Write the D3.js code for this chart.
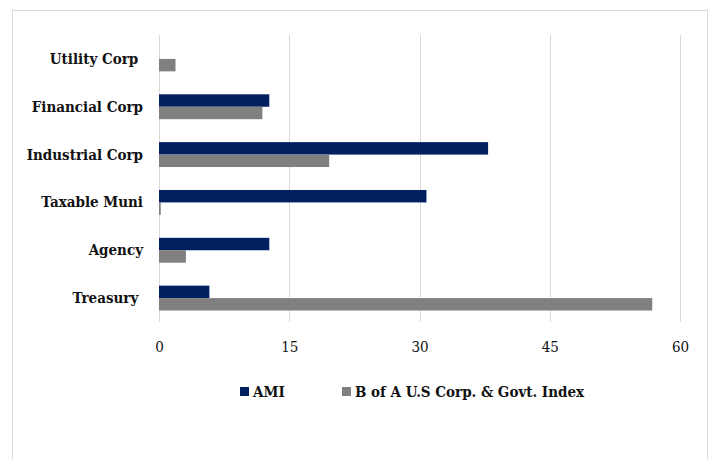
<!DOCTYPE html>
<html>
<head>
<meta charset="utf-8">
<script src="https://cdn.jsdelivr.net/npm/d3@7"></script>
<style>
  body { margin: 0; background: #fff; }
</style>
</head>
<body>
<div id="chart"></div>
<script>
// sectors, top to bottom
const categories = ["Utility Corp ", "Financial Corp", "Industrial Corp", "Taxable Muni", "Agency", "Treasury "];
const seriesNames = ["AMI", "B of A U.S Corp. & Govt. Index"];
const amiValues = [0, 12.7, 37.9, 30.8, 12.7, 5.8];
const indexValues = [1.9, 11.9, 19.6, 0.2, 3.1, 56.8];
const tickValues = [0, 15, 30, 45, 60];
const colors = ["#002060", "#808080"];

const FONT = "'DejaVu Serif', serif";

const W = 721, H = 459;
const margin = { top: 35, left: 159, right: 41, bottom: 137 };
const width = W - margin.left - margin.right;
const height = H - margin.top - margin.bottom;

const svg = d3.select("#chart")
    .append("svg")
    .attr("width", W)
    .attr("height", H)
    .attr("font-family", FONT);

// outer frame
svg.append("rect")
    .attr("x", 12.5)
    .attr("y", 10.5)
    .attr("width", 695)
    .attr("height", 470)
    .attr("fill", "none")
    .attr("stroke", "#d9d9d9");

const g = svg.append("g")
    .attr("transform", "translate(" + margin.left + "," + margin.top + ")");

const xScale = d3.scaleLinear()
    .domain([0, 60])
    .range([0, width]);

const yScale = d3.scaleBand()
    .domain(categories)
    .range([0, height])
    .paddingInner(0.48)
    .paddingOuter(0.24);

const ySub = d3.scaleBand()
    .domain(seriesNames)
    .range([0, yScale.bandwidth()]);

// gridlines
g.selectAll(".grid")
    .data(tickValues)
    .enter()
    .append("line")
    .attr("class", "grid")
    .attr("x1", d => Math.round(xScale(d)) + 0.5)
    .attr("x2", d => Math.round(xScale(d)) + 0.5)
    .attr("y1", 0)
    .attr("y2", height)
    .attr("stroke", "#d9d9d9")
    .attr("stroke-width", 1);

// bars
const rows = categories.map((c, i) => ({ cat: c, vals: [amiValues[i], indexValues[i]] }));

rows.forEach(r => {
    r.vals.forEach((v, j) => {
        g.append("rect")
            .attr("x", xScale(0))
            .attr("y", yScale(r.cat) + ySub(seriesNames[j]))
            .attr("width", xScale(v) - xScale(0))
            .attr("height", ySub.bandwidth())
            .attr("fill", colors[j]);
    });
});

// category labels
g.selectAll(".cat")
    .data(categories)
    .enter()
    .append("text")
    .attr("class", "cat")
    .attr("x", -16)
    .attr("y", d => yScale(d) + yScale.bandwidth() / 2 + 5)
    .attr("text-anchor", "end")
    .style("white-space", "pre")
    .style("font-family", FONT)
    .style("font-stretch", "condensed")
    .style("font-size", "15px")
    .style("font-weight", "bold")
    .attr("fill", "#111")
    .text(d => d);

// x axis tick labels
const xAxis = g.append("g")
    .attr("transform", "translate(0," + height + ")")
    .call(d3.axisBottom(xScale).tickValues(tickValues).tickSize(0).tickPadding(19));
xAxis.attr("font-family", FONT);
xAxis.select(".domain").remove();
xAxis.selectAll("text")
    .style("font-family", FONT)
    .style("font-stretch", "condensed")
    .style("font-size", "15px")
    .attr("fill", "#111");

// legend
const legendX = [240, 342];
const legend = svg.selectAll(".legend")
    .data(seriesNames)
    .enter()
    .append("g")
    .attr("class", "legend")
    .attr("transform", (d, i) => "translate(" + legendX[i] + ",387)");

legend.append("rect")
    .attr("width", 9)
    .attr("height", 9)
    .attr("fill", (d, i) => colors[i]);

legend.append("text")
    .attr("x", 13)
    .attr("y", 10)
    .style("font-family", FONT)
    .style("font-stretch", "condensed")
    .style("font-size", "15px")
    .style("font-weight", "bold")
    .attr("fill", "#111")
    .text(d => d);
</script>
</body>
</html>
